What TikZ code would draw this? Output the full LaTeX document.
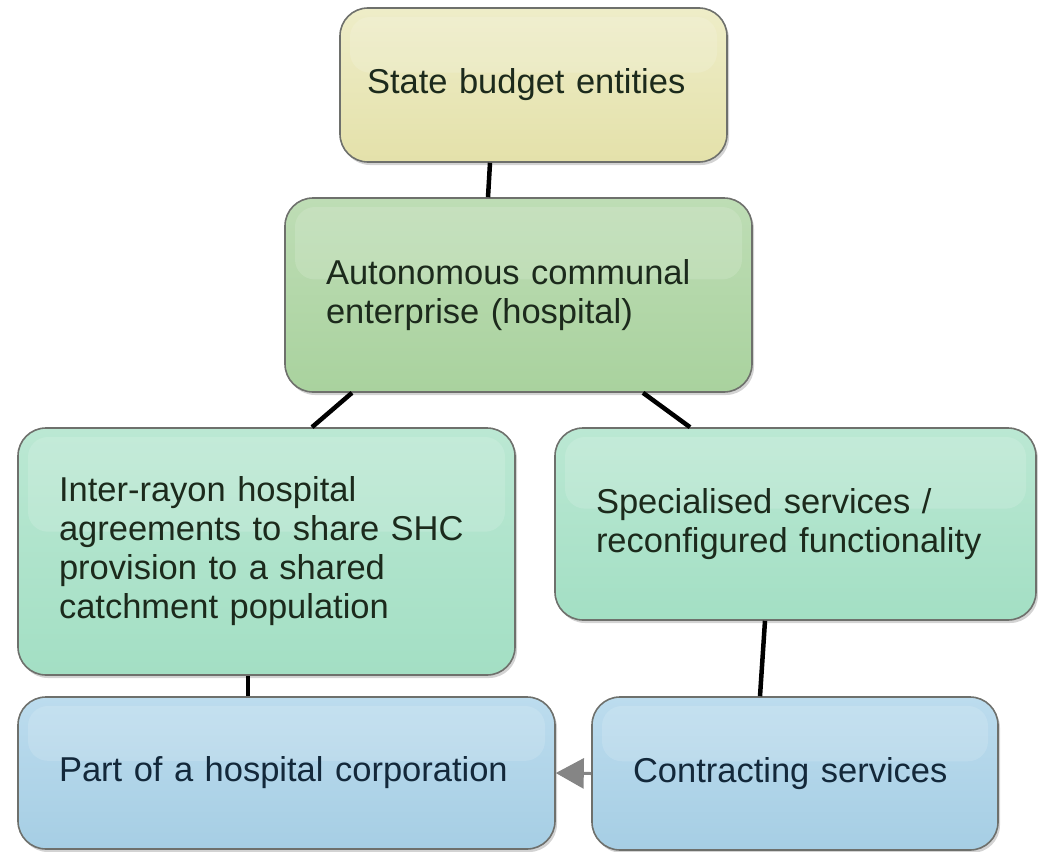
\documentclass[tikz,border=0pt]{standalone}
\usepackage{fontspec}
\setmainfont{Liberation Sans}
\usepackage{xcolor}
\usetikzlibrary{arrows.meta, shadows, calc}

\definecolor{boxline}{HTML}{6E706C}
\definecolor{yellowtop}{HTML}{EEEDC8}
\definecolor{yellowbot}{HTML}{E4E1AA}
\definecolor{greentop}{HTML}{BEDDB5}
\definecolor{greenbot}{HTML}{A9D29E}
\definecolor{minttop}{HTML}{BBE8D3}
\definecolor{mintbot}{HTML}{A3DFC4}
\definecolor{bluetop}{HTML}{BCDCEE}
\definecolor{bluebot}{HTML}{A6CEE4}
\definecolor{darktext}{HTML}{1C2A1C}
\definecolor{navytext}{HTML}{13283A}
\definecolor{arrowgray}{HTML}{858585}

\begin{document}
\begin{tikzpicture}[x=1pt, y=-1pt,
        box/.style={draw=boxline, line width=1.6pt, rounded corners=28pt,
            inner ysep=0pt, text=darktext, align=left,
            font=\fontsize{34.5}{39}\selectfont,
            drop shadow={shadow xshift=2pt, shadow yshift=-3pt, opacity=0.35},
            path picture={\fill [white, opacity=0.14, rounded corners=20pt]
                ([xshift=10pt, yshift=-9pt]path picture bounding box.north west) rectangle
                ($([xshift=-10pt]path picture bounding box.north east)!0.42!([xshift=-10pt]path picture bounding box.south east)$);}},
        yellowbox/.style={box, top color=yellowtop, bottom color=yellowbot},
        greenbox/.style={box, top color=greentop, bottom color=greenbot},
        mintbox/.style={box, top color=minttop, bottom color=mintbot},
        bluebox/.style={box, top color=bluetop, bottom color=bluebot, text=navytext},
        link/.style={line width=4.5pt, black},
        flow/.style={draw=arrowgray, line width=3pt, -{Triangle[length=28pt, width=30pt]}}]
        \useasboundingbox (0, 0) rectangle (1038, 851);
        % Boxes
        \node [yellowbox, inner xsep=27pt, text width=333pt, minimum height=154pt]
            (sbe) at (533.5, 85) {State budget entities};
        \node [greenbox, inner xsep=41pt, text width=385pt, minimum height=194pt]
            (ace) at (518.5, 295) {Autonomous communal\\ enterprise (hospital)};
        \node [mintbox, inner xsep=41pt, text width=415pt, minimum height=247pt]
            (irh) at (266.5, 551.5) {Inter-rayon hospital\\ agreements to share SHC\\ provision to a shared\\ catchment population};
        \node [mintbox, inner xsep=41pt, text width=399pt, minimum height=192pt]
            (spec) at (795.5, 524) {Specialised services /\\ reconfigured functionality};
        \node [bluebox, inner xsep=41pt, text width=455pt, minimum height=152pt]
            (corp) at (286.5, 773) {Part of a hospital corporation};
        \node [bluebox, inner xsep=41pt, text width=324pt, minimum height=153pt]
            (contr) at (795, 773.5) {Contracting services};
        % Links
        \draw [link] ([xshift=-43.5pt]sbe.south) -- ([xshift=-30.5pt]ace.north);
        \draw [link] ([xshift=-166.5pt]ace.south) -- ([xshift=45.5pt]irh.north);
        \draw [link] ([xshift=124.5pt]ace.south) -- ([xshift=-105.5pt]spec.north);
        \draw [link] ([xshift=-18.5pt]irh.south) -- ([xshift=-38.5pt]corp.north);
        \draw [link] ([xshift=-30.5pt]spec.south) -- ([xshift=-35pt]contr.north);
        % Arrow
        \draw [flow] (contr.west) -- (corp.east);
    \end{tikzpicture}
\end{document}
